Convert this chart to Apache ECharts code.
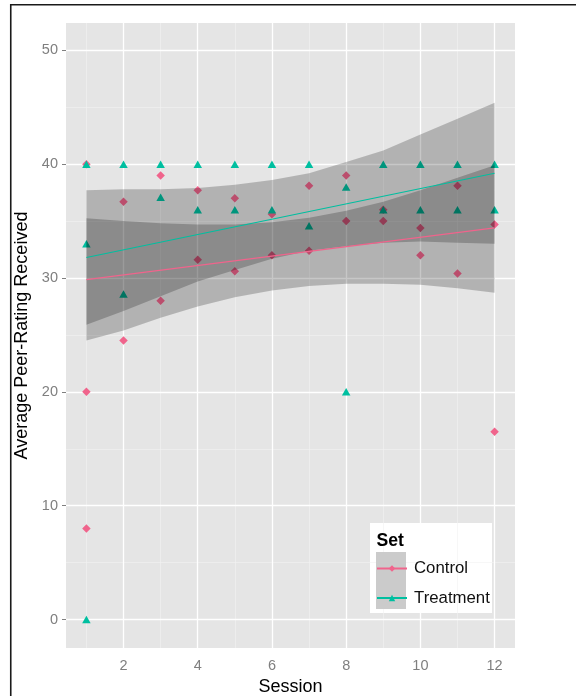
<!DOCTYPE html>
<html>
<head>
<meta charset="utf-8">
<script src="https://cdn.jsdelivr.net/npm/echarts@6/dist/echarts.min.js"></script>
<style>
html,body{margin:0;padding:0;background:#fff;}
#chart{width:576px;height:696px;}
</style>
</head>
<body>
<div id="chart"></div>
<script>
// ---- data ----
const controlX = [1, 1, 1, 2, 2, 3, 3, 4, 4, 5, 5, 6, 6, 7, 7, 8, 8, 9, 9, 10, 10, 11, 11, 12, 12];
const controlY = [40, 20, 8, 36.7, 24.5, 39, 28, 37.7, 31.6, 37, 30.6, 35.6, 32, 38.1, 32.4, 39, 35, 35, 36, 34.4, 32, 38.1, 30.4, 34.7, 16.5];
const treatmentX = [1, 1, 1, 2, 2, 3, 3, 4, 4, 5, 5, 6, 6, 7, 7, 8, 8, 9, 9, 10, 10, 11, 11, 12, 12];
const treatmentY = [40, 33, 0, 40, 28.6, 40, 37.1, 40, 36, 40, 36, 40, 36, 40, 34.6, 38, 20, 40, 36, 40, 36, 40, 36, 40, 36];

const fitX = [1, 12];
const controlFit = [29.85, 34.4];
const treatmentFit = [31.8, 39.2];

const sessions = [1, 2, 3, 4, 5, 6, 7, 8, 9, 10, 11, 12];
const controlLower = [24.5, 25.4, 26.5, 27.5, 28.3, 28.9, 29.3, 29.5, 29.5, 29.4, 29.1, 28.7];
const controlUpper = [35.25, 35.0, 34.8, 34.7, 34.7, 34.9, 35.3, 35.9, 36.7, 37.7, 38.8, 39.9];
const treatmentLower = [25.9, 27.1, 28.4, 29.7, 30.7, 31.7, 32.4, 32.8, 33.1, 33.2, 33.1, 33.0];
const treatmentUpper = [37.7, 37.8, 37.8, 37.9, 38.2, 38.6, 39.2, 40.2, 41.2, 42.6, 44.0, 45.4];

const xMajor = [2, 4, 6, 8, 10, 12];
const xMinor = [1, 3, 5, 7, 9, 11];
const yMajor = [0, 10, 20, 30, 40, 50];
const yMinor = [5, 15, 25, 35, 45];

const seriesNames = ['Control', 'Treatment'];
const legendTitle = 'Set';

// ---- styles ----
const PINK = '#F0648C';
const TEAL = '#00BFA0';
const FONT = 'Liberation Sans, Arial, sans-serif';

const chart = echarts.init(document.getElementById('chart'), null, {renderer: 'canvas'});

function pairs(xs, ys) { return xs.map((x, i) => [x, ys[i]]); }

function ribbon(id, lower, upper) {
  return {
    name: id + 'Band', type: 'custom', z: 3, silent: true,
    data: sessions.map((s, i) => [s, lower[i], upper[i]]),
    encode: {x: 0, y: [1, 2]},
    renderItem: function (params, api) {
      if (params.dataIndex !== 0) return null;
      const pts = [];
      for (let i = 0; i < sessions.length; i++) pts.push(api.coord([sessions[i], upper[i]]));
      for (let i = sessions.length - 1; i >= 0; i--) pts.push(api.coord([sessions[i], lower[i]]));
      return {type: 'polygon', shape: {points: pts, smooth: 0}, style: {fill: 'rgba(0,0,0,0.22)'}};
    }
  };
}

const gridLines = {
  type: 'scatter', name: 'grid', data: [], z: 1, silent: true,
  markLine: {
    silent: true, symbol: 'none', z: 1, animation: false,
    label: {show: false},
    data: [
      ...xMinor.map(v => ({xAxis: v, lineStyle: {color: '#F2F2F2', width: 0.6, type: 'solid'}})),
      ...yMinor.map(v => ({yAxis: v, lineStyle: {color: '#F2F2F2', width: 0.6, type: 'solid'}})),
      ...xMajor.map(v => ({xAxis: v, lineStyle: {color: '#FFFFFF', width: 1.3, type: 'solid'}})),
      ...yMajor.map(v => ({yAxis: v, lineStyle: {color: '#FFFFFF', width: 1.3, type: 'solid'}}))
    ]
  }
};

const option = {
  animation: false,
  backgroundColor: '#ffffff',
  textStyle: {fontFamily: FONT},
  grid: {
    left: 66, right: 61, top: 23, bottom: 48,
    outerBoundsMode: 'none', containLabel: false,
    show: true, backgroundColor: '#E5E5E5', borderWidth: 0
  },
  xAxis: {
    type: 'value', min: 0.45, max: 12.55,
    name: 'Session', nameLocation: 'middle', nameGap: 28,
    nameTextStyle: {color: '#000', fontSize: 18, fontFamily: FONT},
    axisLine: {show: false},
    axisTick: {show: true, length: 4, customValues: xMajor, lineStyle: {color: '#7F7F7F', width: 1}},
    axisLabel: {customValues: xMajor, color: '#7F7F7F', fontSize: 14.5, margin: 10, fontFamily: FONT},
    splitLine: {show: false}
  },
  yAxis: {
    type: 'value', min: -2.5, max: 52.4,
    name: 'Average Peer-Rating Received', nameLocation: 'middle', nameGap: 29,
    nameTextStyle: {color: '#000', fontSize: 18, fontFamily: FONT},
    axisLine: {show: false},
    axisTick: {show: true, length: 4, customValues: yMajor, lineStyle: {color: '#7F7F7F', width: 1}},
    axisLabel: {customValues: yMajor, color: '#7F7F7F', fontSize: 14.5, margin: 8, fontFamily: FONT},
    splitLine: {show: false}
  },
  legend: [
    {
      data: [seriesNames[0]], left: 376, top: 560, orient: 'vertical',
      itemWidth: 30, itemHeight: 8, padding: 0, selectedMode: false,
      textStyle: {fontSize: 16.8, color: '#111', fontFamily: FONT, padding: [0, 0, 0, 2]}
    },
    {
      data: [seriesNames[1]], left: 376, top: 589.5, orient: 'vertical',
      itemWidth: 30, itemHeight: 8, padding: 0, selectedMode: false,
      textStyle: {fontSize: 16.8, color: '#111', fontFamily: FONT, padding: [0, 0, 0, 2]}
    }
  ],
  graphic: [
    {type: 'polyline', z: 100, silent: true,
      shape: {points: [[10.75, 700], [10.75, 4.75], [580, 4.75]]},
      style: {stroke: '#1a1a1a', lineWidth: 1.6, fill: null}},
    {type: 'rect', z: 1, silent: true, shape: {x: 370, y: 523, width: 122, height: 90},
      style: {fill: '#ffffff'}},
    {type: 'rect', z: 2, silent: true, shape: {x: 376, y: 552, width: 30, height: 57},
      style: {fill: '#CBCBCB'}},
    {type: 'text', z: 3, silent: true, x: 376.5, y: 541,
      style: {text: legendTitle, font: 'bold 17.6px ' + FONT, fill: '#000', verticalAlign: 'middle'}}
  ],
  series: [
    {
      name: seriesNames[0], type: 'line', z: 4, data: pairs(fitX, controlFit),
      symbol: 'diamond', showSymbol: false, color: PINK,
      lineStyle: {color: PINK, width: 1.2}, silent: true
    },
    {
      name: seriesNames[1], type: 'line', z: 4, data: pairs(fitX, treatmentFit),
      symbol: 'triangle', showSymbol: false, color: TEAL,
      lineStyle: {color: TEAL, width: 1.2}, silent: true
    },
    gridLines,
    {
      name: seriesNames[0] + ' points', type: 'scatter', z: 2,
      data: pairs(controlX, controlY), symbol: 'diamond', symbolSize: 8.5,
      itemStyle: {color: PINK, opacity: 1}
    },
    {
      name: seriesNames[1] + ' points', type: 'scatter', z: 2,
      data: pairs(treatmentX, treatmentY), symbol: 'triangle', symbolSize: [8.5, 7.5],
      itemStyle: {color: TEAL, opacity: 1}
    },
    ribbon('c', controlLower, controlUpper),
    ribbon('t', treatmentLower, treatmentUpper)
  ]
};
chart.setOption(option);
</script>
</body>
</html>
